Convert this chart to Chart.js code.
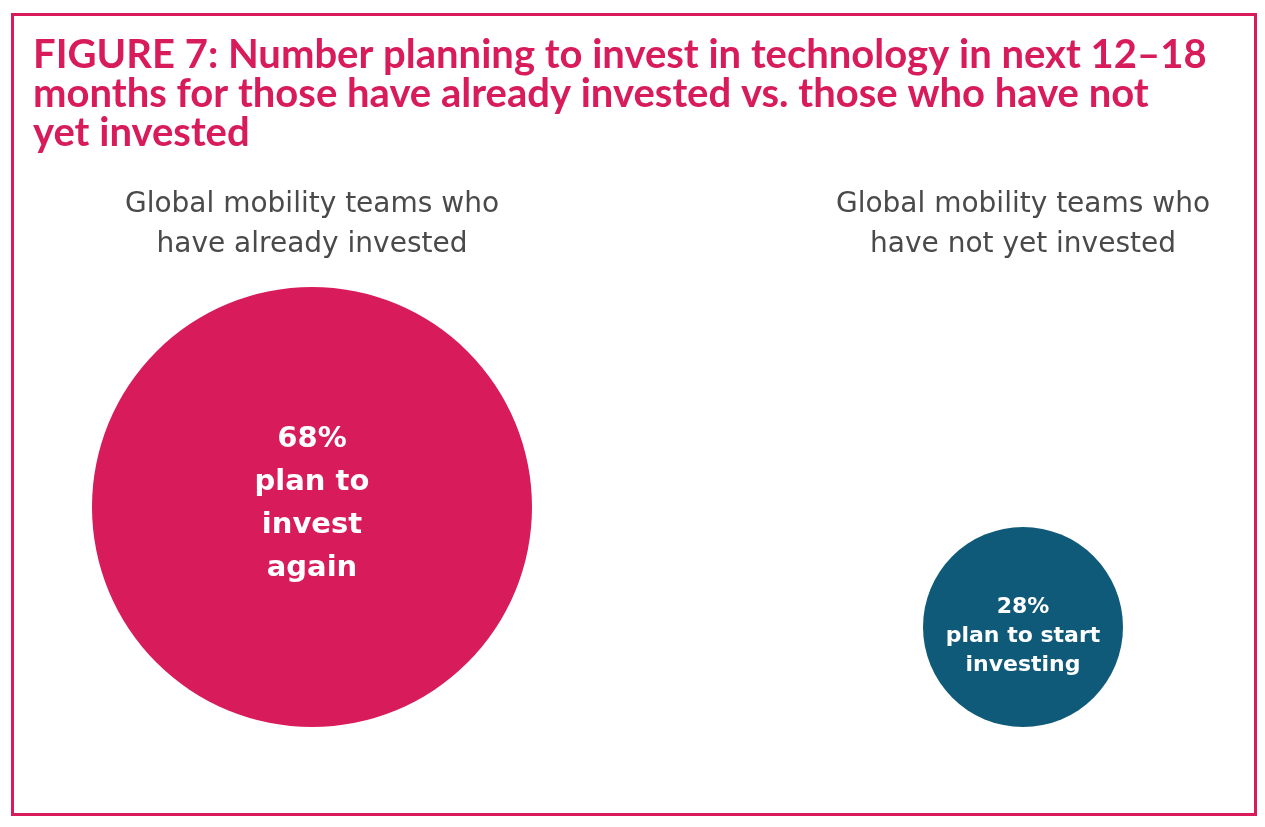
<!DOCTYPE html>
<html>
<head>
<meta charset="utf-8">
<script src="https://cdn.jsdelivr.net/npm/chart.js@4"></script>
<style>
    html, body { margin: 0; padding: 0; background: #fff; }
    .frame {
        position: absolute;
        left: 11px;
        top: 13px;
        width: 1240px;
        height: 797px;
        border: 3px solid #D81B5A;
    }
    canvas { display: block; }
</style>
</head>
<body>
<div class="frame">
    <canvas id="bubbleChart" width="1240" height="797"></canvas>
</div>
<script>
const titleLines = [
    'FIGURE 7: Number planning to invest in technology in next 12\u201318',
    'months for those have already invested vs. those who have not',
    'yet invested'
];
const groupHeaders = [
    ['Global mobility teams who', 'have already invested'],
    ['Global mobility teams who', 'have not yet invested']
];
const planShares = [68, 28];
const shareCaptions = [
    ['plan to', 'invest', 'again'],
    ['plan to start', 'investing']
];
const bubbleColors = ['#D81B5A', '#105A79'];

// pixels per percentage point, shared by the y scale and the bubble radius
const PX_PER_PT = 3;

// fix the y scale to PX_PER_PT once the chart area is known
const yStepPlugin = {
    id: 'yStep',
    afterLayout(chart) {
        const y = chart.scales.y;
        y.max = y.min + y.height / PX_PER_PT;
        y.configure();
    }
};

const captionPlugin = {
    id: 'bubbleCaptions',
    afterDatasetsDraw(chart) {
        const ctx = chart.ctx;
        const meta = chart.getDatasetMeta(0);
        meta.data.forEach((pt, i) => {
            const lines = [planShares[i] + '%', ...shareCaptions[i]];
            const size = i === 0 ? 29 : 22;
            const lh = i === 0 ? 43 : 29;
            const shift = i === 0 ? -3 : 9;
            ctx.save();
            ctx.fillStyle = '#ffffff';
            ctx.font = 'bold ' + size + 'px "DejaVu Sans"';
            ctx.textAlign = 'center';
            ctx.textBaseline = 'middle';
            const startY = pt.y - (lines.length - 1) * lh / 2 + shift;
            lines.forEach((line, j) => ctx.fillText(line, pt.x, startY + j * lh));
            ctx.restore();
        });
    }
};

new Chart(document.getElementById('bubbleChart'), {
    type: 'bubble',
    data: {
        datasets: [{
            data: planShares.map((v, i) => ({ x: i, y: v })),
            backgroundColor: bubbleColors,
            borderWidth: 0,
            radius: ctx => PX_PER_PT * ctx.raw.y + 16,
            hoverRadius: 0,
            clip: false
        }]
    },
    options: {
        responsive: false,
        animation: false,
        devicePixelRatio: 1,
        layout: {
            autoPadding: false,
            padding: { left: 19, right: 0, top: 0, bottom: 102 }
        },
        plugins: {
            legend: { display: false },
            tooltip: { enabled: false },
            title: {
                display: true,
                text: titleLines,
                align: 'start',
                color: '#D81B5A',
                font: { family: 'Lato', size: 40, weight: 'bold', lineHeight: 0.97 },
                padding: { top: 20, bottom: 11 }
            }
        },
        scales: {
            x: {
                type: 'linear',
                position: 'top',
                min: -0.3924,
                max: 1.3249,
                grid: { display: false, drawTicks: false },
                border: { display: false },
                afterBuildTicks: axis => {
                    axis.ticks = groupHeaders.map((h, i) => ({ value: i }));
                },
                ticks: {
                    autoSkip: false,
                    maxRotation: 0,
                    padding: 21,
                    color: '#4a4a4a',
                    font: { family: 'DejaVu Sans', size: 28, lineHeight: 1.43 },
                    callback: value => groupHeaders[value]
                }
            },
            y: {
                display: false,
                min: 0,
                max: 140
            }
        }
    },
    plugins: [yStepPlugin, captionPlugin]
});
</script>
</body>
</html>
